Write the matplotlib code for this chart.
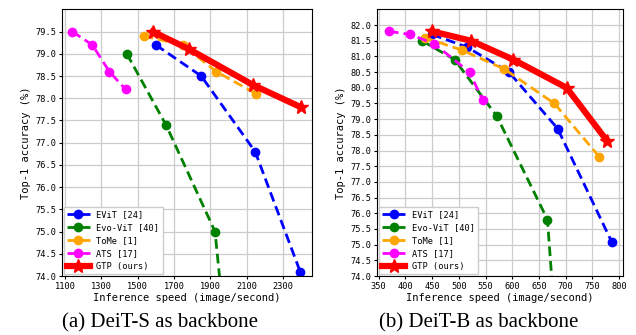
import matplotlib
matplotlib.use('Agg')
import matplotlib.pyplot as plt

# (a) DeiT-S
s_evit_x = [1600, 1850, 2147, 2395]
s_evit_y = [79.2, 78.5, 76.8, 74.1]
s_evo_x = [1440, 1656, 1926, 1975]
s_evo_y = [79.0, 77.4, 75.0, 73.0]
s_tome_x = [1533, 1748, 1933, 2153]
s_tome_y = [79.4, 79.2, 78.6, 78.1]
s_ats_x = [1140, 1250, 1344, 1433]
s_ats_y = [79.5, 79.2, 78.6, 78.2]
s_gtp_x = [1583, 1785, 2135, 2398]
s_gtp_y = [79.5, 79.1, 78.3, 77.8]

# (b) DeiT-B
b_evit_x = [450, 515, 594, 685, 786]
b_evit_y = [81.7, 81.3, 80.5, 78.7, 75.1]
b_evo_x = [431, 492, 571, 666, 678]
b_evo_y = [81.5, 80.9, 79.1, 75.8, 73.0]
b_tome_x = [436, 506, 585, 679, 763]
b_tome_y = [81.6, 81.2, 80.6, 79.5, 77.8]
b_ats_x = [369, 409, 454, 520, 545]
b_ats_y = [81.8, 81.7, 81.4, 80.5, 79.6]
b_gtp_x = [450, 523, 602, 702, 778]
b_gtp_y = [81.8, 81.5, 80.9, 80.0, 78.3]

labels = ['EViT [24]', 'Evo-ViT [40]', 'ToMe [1]', 'ATS [17]', 'GTP (ours)']
colors = ['blue', 'green', 'orange', 'magenta', 'red']

plt.rcParams['font.family'] = 'DejaVu Sans Mono'


def draw(ax, series, xlim, ylim, xticks, yticks):
    for (x, y), label, color in zip(series[:4], labels[:4], colors[:4]):
        ax.plot(x, y, '--o', color=color, lw=2, ms=6, label=label,
                dashes=(3.5, 1.8))
    gx, gy = series[4]
    ax.plot(gx, gy, '-*', color='red', lw=4.5, ms=10, label=labels[4])
    ax.set_xlim(*xlim)
    ax.set_ylim(*ylim)
    ax.set_xticks(xticks)
    ax.set_yticks(yticks)
    ax.set_yticklabels(['{:.1f}'.format(v) for v in yticks])
    ax.tick_params(labelsize=6.2, length=2.5, pad=1.5)
    ax.grid(True, color='#cccccc', lw=0.9)
    ax.set_axisbelow(True)
    ax.set_xlabel('Inference speed (image/second)', fontsize=7.5, labelpad=2)
    ax.set_ylabel('Top-1 accuracy (%)', fontsize=7.5, labelpad=3)
    ax.legend(loc='lower left', fontsize=6.2, borderaxespad=0.2, handlelength=2.6,
              labelspacing=0.45, framealpha=1, fancybox=False, edgecolor='#cccccc')


fig = plt.figure(figsize=(6.36, 3.35), dpi=100)
ax1 = fig.add_axes([0.0975, 0.176, 0.393, 0.796])
ax2 = fig.add_axes([0.593, 0.176, 0.387, 0.796])

draw(ax1, [(s_evit_x, s_evit_y), (s_evo_x, s_evo_y), (s_tome_x, s_tome_y),
           (s_ats_x, s_ats_y), (s_gtp_x, s_gtp_y)],
     (1083, 2460), (74.0, 80.0), list(range(1100, 2400, 200)),
     [74.0 + 0.5 * i for i in range(12)])
draw(ax2, [(b_evit_x, b_evit_y), (b_evo_x, b_evo_y), (b_tome_x, b_tome_y),
           (b_ats_x, b_ats_y), (b_gtp_x, b_gtp_y)],
     (347, 808), (74.0, 82.5), list(range(350, 801, 50)),
     [74.0 + 0.5 * i for i in range(17)])

fig.text(0.252, 0.035, '(a) DeiT-S as backbone', ha='center', va='center',
         fontsize=15, family='Liberation Serif')
fig.text(0.752, 0.035, '(b) DeiT-B as backbone', ha='center', va='center',
         fontsize=15, family='Liberation Serif')

fig.savefig('out.png', dpi=100)
